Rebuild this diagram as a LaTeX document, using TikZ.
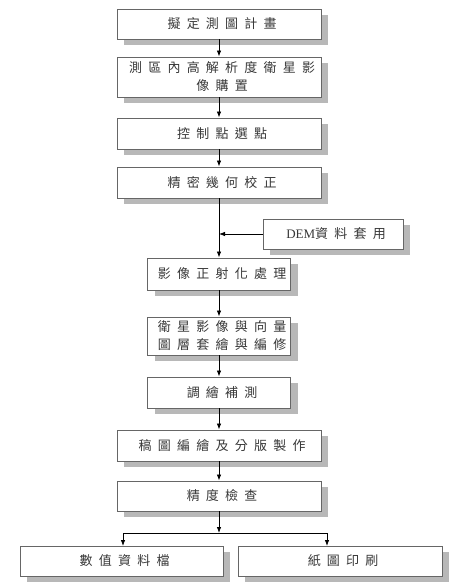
\documentclass[tikz,border=0pt]{standalone}
\usepackage{fontspec}
\newfontfamily\cjk[LetterSpace=48]{Noto Sans CJK TC}
\newfontfamily\demfont{Liberation Serif}
\usetikzlibrary{arrows.meta,shadows,calc}
\newcommand\ls{\kern 0.48em}
\begin{document}
\begin{tikzpicture}[x=1pt,y=-1pt,
  box/.style={draw=black!60, line width=0.9pt, fill=white, inner sep=0pt,
    align=center, font=\cjk\fontsize{13}{18}\selectfont, text=black!78,
    drop shadow={shadow xshift=7pt, shadow yshift=-6pt, fill=black!28, opacity=1}},
  arr/.style={-{Latex[length=6pt,width=4.5pt]}, line width=0.8pt, black},
  ln/.style={line width=0.8pt, black}]
\useasboundingbox (0,0) rectangle (455,585);
\node[box, minimum width=204pt, minimum height=30pt] (b1) at (219,24) {\ls 擬定測圖計畫};
\node[box, minimum width=204pt, minimum height=40pt] (b2) at (219,77) {\ls 測區內高解析度衛星影\\\ls 像購置};
\node[box, minimum width=204pt, minimum height=31pt] (b3) at (219,133.5) {\ls 控制點選點};
\node[box, minimum width=204pt, minimum height=31pt] (b4) at (219,182.5) {\ls 精密幾何校正};
\node[box, minimum width=140pt, minimum height=30pt] (dem) at (333,234) {\ls{\demfont\fontsize{13}{15}\selectfont DEM}資料套用};
\node[box, minimum width=143pt, minimum height=32pt] (b5) at (219,274) {\ls 影像正射化處理};
\node[box, minimum width=143pt, minimum height=38pt] (b6) at (219,336) {\ls 衛星影像與向量\\\ls 圖層套繪與編修};
\node[box, minimum width=143pt, minimum height=31pt] (b7) at (219,392.5) {\ls 調繪補測};
\node[box, minimum width=204pt, minimum height=31pt] (b8) at (219,445.5) {\ls 稿圖編繪及分版製作};
\node[box, minimum width=204pt, minimum height=30pt] (b9) at (219,496) {\ls 精度檢查};
\node[box, minimum width=203pt, minimum height=30pt] (b10) at (121.5,561) {\ls 數值資料檔};
\node[box, minimum width=204pt, minimum height=30pt] (b11) at (340,561) {\ls 紙圖印刷};
\coordinate (j) at (219,533);
\coordinate (t10) at (123,546);
\coordinate (t11) at (327,546);
\draw[arr] (b1) -- (b2);
\draw[arr] (b2) -- (b3);
\draw[arr] (b3) -- (b4);
\draw[arr] (b4) -- (b5);
\draw[arr] (dem.west) -- (dem.west -| b4.south);
\draw[arr] (b5) -- (b6);
\draw[arr] (b6) -- (b7);
\draw[arr] (b7) -- (b8);
\draw[arr] (b8) -- (b9);
\draw[arr] (b9) -- (j);
\draw[arr] (j) -| (t10);
\draw[arr] (j) -| (t11);
\end{tikzpicture}
\end{document}
